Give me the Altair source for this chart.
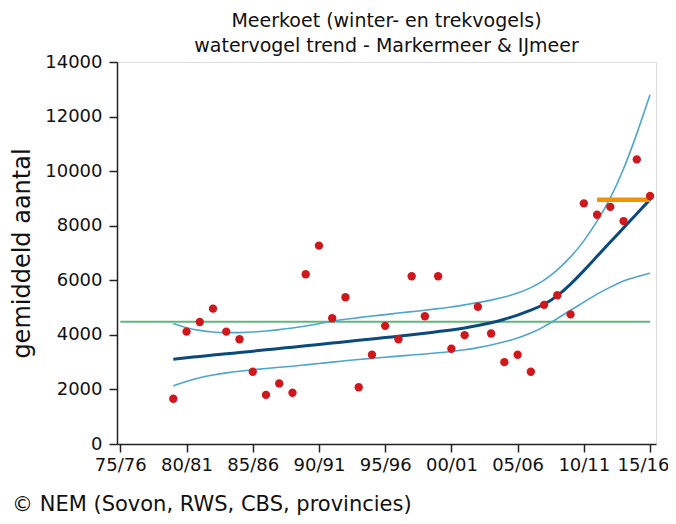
import altair as alt
import pandas as pd

# --- data ---
years = list(range(1979, 2016))
counts = [1660, 4120, 4470, 4960, 4120, 3840, 2650, 1800, 2220, 1880,
          6220, 7270, 4610, 5380, 2080, 3270, 4330, 3840, 6150, 4680,
          6150, 3490, 3990, 5030, 4050, 3000, 3270, 2650, 5100, 5450,
          4750, 8820, 8400, 8690, 8170, 10430, 9090]
trend = [3110, 3160, 3210, 3260, 3310, 3350, 3400, 3450, 3500, 3550,
         3600, 3650, 3700, 3750, 3800, 3850, 3900, 3950, 4000, 4060,
         4120, 4180, 4250, 4340, 4440, 4570, 4720, 4900, 5100, 5420,
         5850, 6350, 6880, 7400, 7920, 8440, 8960]
upper = [4420, 4250, 4160, 4100, 4080, 4080, 4100, 4140, 4190, 4250,
         4320, 4400, 4510, 4570, 4630, 4690, 4740, 4800, 4850, 4900,
         4960, 5020, 5100, 5180, 5270, 5380, 5520, 5720, 5990, 6370,
         6840, 7420, 8150, 8980, 10050, 11350, 12800]
lower = [2130, 2300, 2430, 2530, 2610, 2670, 2720, 2770, 2810, 2850,
         2900, 2950, 3000, 3050, 3100, 3140, 3180, 3220, 3260, 3300,
         3340, 3390, 3450, 3530, 3630, 3740, 3880, 4060, 4290, 4600,
         4900, 5200, 5500, 5750, 5990, 6130, 6260]
mean_level = [4480]
mean_span = [1975, 2015]
recent_level = [8950]
recent_span = [2011, 2015]

tick_years = [1975, 1980, 1985, 1990, 1995, 2000, 2005, 2010, 2015]
tick_labels = ["75/76", "80/81", "85/86", "90/91", "95/96",
               "00/01", "05/06", "10/11", "15/16"]
y_ticks = [0, 2000, 4000, 6000, 8000, 10000, 12000, 14000]

title_lines = ["Meerkoet (winter- en trekvogels)",
               "watervogel trend - Markermeer & IJmeer"]
y_title = "gemiddeld aantal"
footer = ["\u00a9 NEM (Sovon, RWS, CBS, provincies)"]

FONT = "DejaVu Sans"

df_pts = pd.DataFrame({"year": years, "count": counts})
df_tr = pd.DataFrame({"year": years, "trend": trend, "upper": upper, "lower": lower})
df_mean = pd.DataFrame({"x": [mean_span[0]], "x2": [mean_span[1]], "y": mean_level})
df_recent = pd.DataFrame({"x": [recent_span[0]], "x2": [recent_span[1]], "y": recent_level})
df_footer = pd.DataFrame({"t": footer})

label_expr = "''"
for yv, lab in reversed(list(zip(tick_years, tick_labels))):
    label_expr = f"datum.value == {yv} ? '{lab}' : ({label_expr})"

xscale = alt.Scale(domain=[1974.75, 2015.45], nice=False, zero=False)
yscale = alt.Scale(domain=[0, 14000], nice=False)

xaxis = alt.Axis(values=tick_years, labelExpr=label_expr, title=None,
                 grid=False, tickSize=8, labelPadding=4, labelFontSize=18,
                 labelOffset=alt.expr(f"datum.value == {tick_years[-1]} ? -7 : 0"),
                 labelFont=FONT, labelColor="#111", tickColor="#222",
                 domainColor="#222", tickWidth=1.5, domainWidth=1.5)
yaxis = alt.Axis(values=y_ticks, format="d", title=y_title, grid=False, tickSize=8,
                 labelPadding=7, labelFontSize=18, labelFont=FONT,
                 labelColor="#111", titleFont=FONT, titleFontSize=24,
                 titleFontWeight="normal", titleColor="#111", titlePadding=10,
                 tickColor="#222", domainColor="#222", tickWidth=1.5,
                 domainWidth=1.5)

base_x = alt.X("year:Q", scale=xscale, axis=xaxis)

mean_rule = alt.Chart(df_mean).mark_rule(color="#5fb87a", strokeWidth=2).encode(
    x=alt.X("x:Q", scale=xscale, axis=xaxis), x2="x2:Q",
    y=alt.Y("y:Q", scale=yscale, axis=yaxis))

upper_line = alt.Chart(df_tr).mark_line(color="#4ea5cc", strokeWidth=1.6,
                                        interpolate="basis").encode(
    x=base_x, y=alt.Y("upper:Q", scale=yscale, axis=yaxis))
lower_line = alt.Chart(df_tr).mark_line(color="#4ea5cc", strokeWidth=1.6,
                                        interpolate="basis").encode(
    x=base_x, y=alt.Y("lower:Q", scale=yscale, axis=yaxis))
trend_line = alt.Chart(df_tr).mark_line(color="#0b4a7c", strokeWidth=3,
                                        interpolate="basis").encode(
    x=base_x, y=alt.Y("trend:Q", scale=yscale, axis=yaxis))

recent_rule = alt.Chart(df_recent).mark_rule(color="#f39200", strokeWidth=4.5).encode(
    x=alt.X("x:Q", scale=xscale, axis=xaxis), x2="x2:Q",
    y=alt.Y("y:Q", scale=yscale, axis=yaxis))

points = alt.Chart(df_pts).mark_circle(color="#d0181c", opacity=1, size=70).encode(
    x=base_x, y=alt.Y("count:Q", scale=yscale, axis=yaxis))

footer_text = alt.Chart(df_footer).mark_text(
    align="left", baseline="alphabetic", fontSize=21, font=FONT, color="#111"
).encode(x=alt.value(-105), y=alt.value(449), text="t:N")

chart = alt.layer(
    mean_rule, upper_line, lower_line, trend_line, recent_rule, points, footer_text
).properties(
    width=539, height=382,
    title=alt.Title(title_lines, font=FONT, fontSize=19, fontWeight="normal",
                    color="#111", anchor="middle", offset=-3, lineHeight=25),
    padding={"left": 109, "top": 54, "right": 12, "bottom": 72},
    autosize=alt.AutoSizeParams(type="none"),
).configure_view(stroke="#222", strokeWidth=1.5).configure(background="white")

chart.save("out.html", embed_options={"renderer": "svg", "actions": False})
